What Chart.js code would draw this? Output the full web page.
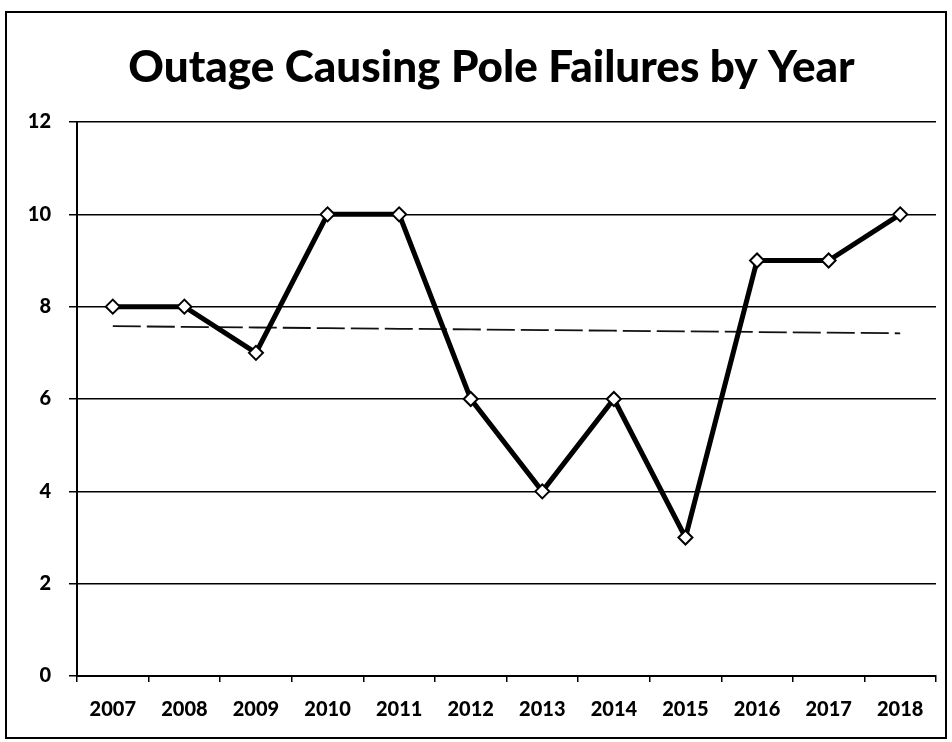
<!DOCTYPE html>
<html>
<head>
<meta charset="utf-8">
<script src="https://cdn.jsdelivr.net/npm/chart.js@4/dist/chart.umd.min.js"></script>
<style>
  html, body { margin: 0; padding: 0; background: #fff; }
  #wrap { width: 952px; height: 742px; }
</style>
</head>
<body>
<div id="wrap"><canvas id="poleChart" width="952" height="742"></canvas></div>
<script>
const years = ["2007", "2008", "2009", "2010", "2011", "2012", "2013", "2014", "2015", "2016", "2017", "2018"]
const failures = [8, 8, 7, 10, 10, 6, 4, 6, 3, 9, 9, 10]
const yTicks = [0, 2, 4, 6, 8, 10, 12]

// Least-squares linear trend through the yearly counts
const linearTrend = (values) => {
  const n = values.length
  const xMean = (n - 1) / 2
  const yMean = values.reduce((a, b) => a + b, 0) / n
  let sxy = 0
  let sxx = 0
  values.forEach((y, x) => {
    sxy += (x - xMean) * (y - yMean)
    sxx += (x - xMean) * (x - xMean)
  })
  const slope = sxy / sxx
  return values.map((_, x) => yMean + slope * (x - xMean))
}

// Frame around the whole chart, and a title box that starts a bit right of the canvas edge
const framePlugin = {
  id: "frame",
  afterLayout(chart) {
    if (chart.titleBlock) chart.titleBlock.left = 47
  },
  afterDraw(chart) {
    const ctx = chart.ctx
    ctx.save()
    ctx.strokeStyle = "#000"
    ctx.lineWidth = 2
    ctx.strokeRect(6, 12, 940, 726)
    ctx.restore()
  },
}

const fontFamily = "Lato, 'Open Sans', sans-serif"

new Chart(document.getElementById("poleChart"), {
  type: "line",
  data: {
    labels: years,
    datasets: [
      {
        label: "Trend",
        data: linearTrend(failures),
        borderColor: "#111",
        borderWidth: 1.8,
        borderDash: [28, 6],
        pointRadius: 0,
        fill: false,
        order: 1,
      },
      {
        label: "Pole Failures",
        data: failures,
        borderColor: "#000",
        borderWidth: 5,
        pointStyle: "rectRot",
        pointRadius: 7,
        pointBorderWidth: 2,
        pointBackgroundColor: "#fff",
        pointBorderColor: "#000",
        fill: false,
        tension: 0,
        order: 0,
      },
    ],
  },
  options: {
    responsive: false,
    animation: false,
    layout: { padding: { left: 0, right: 16, top: 0, bottom: 0 } },
    plugins: {
      legend: { display: false },
      tooltip: { enabled: false },
      title: {
        display: true,
        text: "Outage Causing Pole Failures by Year",
        color: "#000",
        font: { family: fontFamily, size: 44, weight: "900" },
        lineHeight: 1.2,
        padding: { top: 41, bottom: 28.2 },
      },
    },
    scales: {
      x: {
        offset: true,
        afterFit: (scale) => { scale.height = 66 },
        grid: {
          display: true,
          offset: true,
          drawOnChartArea: false,
          color: "#000",
          lineWidth: 1.5,
          tickLength: 6,
        },
        border: { display: true, color: "#000", width: 2 },
        ticks: {
          color: "#000",
          padding: 16,
          maxRotation: 0,
          font: { family: fontFamily, size: 20, weight: "900" },
        },
      },
      y: {
        min: 0,
        max: 12,
        afterFit: (scale) => { scale.width = 77 },
        afterBuildTicks: (scale) => {
          scale.ticks = yTicks.map((v) => ({ value: v }))
        },
        grid: {
          color: "#000",
          lineWidth: 1.5,
          tickLength: 8,
        },
        border: { display: true, color: "#000", width: 2 },
        ticks: {
          color: "#000",
          padding: 18,
          font: { family: fontFamily, size: 20, weight: "900" },
        },
      },
    },
  },
  plugins: [framePlugin],
})
</script>
</body>
</html>
